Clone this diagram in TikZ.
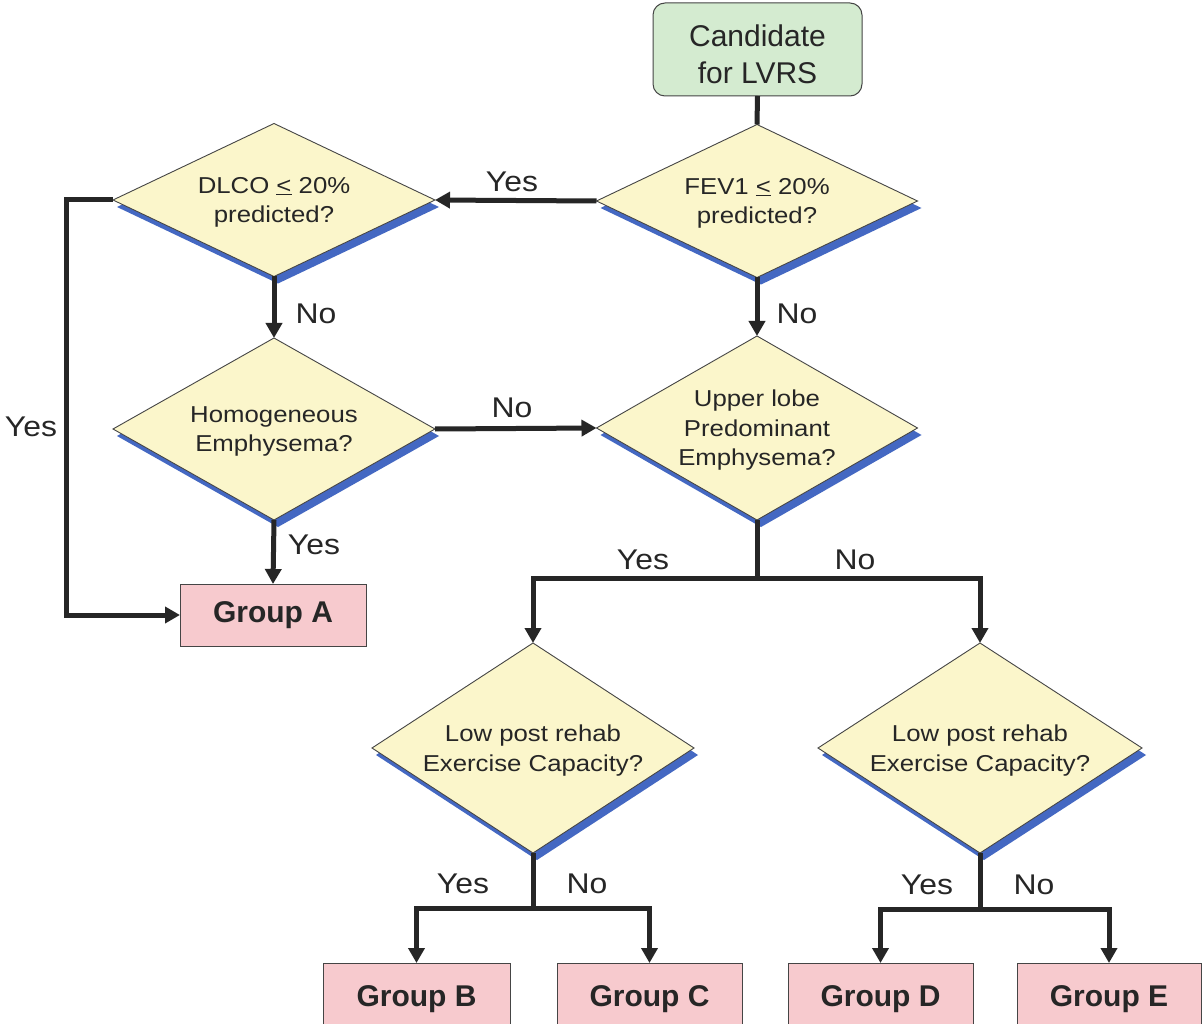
\documentclass[tikz,border=0pt]{standalone}
\usepackage{fontspec}
\setmainfont{Liberation Sans}
\newfontfamily\widesans[FakeStretch=1.12]{Liberation Sans}
\usetikzlibrary{shapes.geometric,arrows.meta,shadows}

\definecolor{startgreen}{HTML}{D4EBD0}
\definecolor{askyellow}{HTML}{FBF6CB}
\definecolor{grouppink}{HTML}{F7CACE}
\definecolor{shblue}{HTML}{4468C2}
\definecolor{ink}{HTML}{262626}
\definecolor{rim}{HTML}{454545}

\tikzset{
  startbox/.style={draw=rim, line width=1pt, fill=startgreen, rounded corners=12pt,
    minimum width=209pt, minimum height=93pt, inner sep=0pt, outer sep=0pt,
    align=center, text=ink, font=\fontsize{30}{37}\selectfont},
  ask/.style={diamond, aspect=2, draw=rim, line width=0.9pt, fill=askyellow, inner sep=0pt, outer sep=0pt,
    general shadow={fill=shblue, shadow xshift=4pt, shadow yshift=-7pt},
    text depth=0pt, align=center, text=ink, font=\widesans\fontsize{23}{29.5}\selectfont},
  groupbox/.style={draw=rim, line width=1pt, fill=grouppink, inner sep=0pt, outer sep=0pt,
    text=ink, font=\fontsize{30}{36}\selectfont\bfseries},
  conn/.style={draw=ink, line width=5pt},
  arr/.style={conn, -{Triangle[length=15pt,width=16pt]}},
  lbl/.style={text=ink, font=\widesans\fontsize{28.5}{32}\selectfont, inner sep=0pt}
}

\begin{document}
\begin{tikzpicture}[x=1pt,y=-1pt]
  \fill[white] (0,0) rectangle (1202,1024);
  \useasboundingbox (0,0) rectangle (1202,1024);
  \clip (0,0) rectangle (1202,1024);

  % start
  \node[startbox] (cand) at (757.5,49.5) {\rule{0pt}{32pt}Candidate\\for LVRS};

  % decisions
  \node[ask, minimum width=321pt, minimum height=153pt] (fev) at (757,201)
    {FEV1 \underline{<} 20\%\\predicted?};
  \node[ask, minimum width=322pt, minimum height=153pt] (dlco) at (274,200)
    {DLCO \underline{<} 20\%\\predicted?};
  \node[ask, minimum width=322pt, minimum height=182pt] (homo) at (274,429)
    {Homogeneous\\Emphysema?};
  \node[ask, minimum width=321pt, minimum height=184pt] (upper) at (757,428)
    {Upper lobe\\Predominant\\Emphysema?};
  \node[ask, minimum width=322pt, minimum height=210pt] (rehabL) at (533,748)
    {Low post rehab\\Exercise Capacity?};
  \node[ask, minimum width=324pt, minimum height=210pt] (rehabR) at (980,748)
    {Low post rehab\\Exercise Capacity?};

  % outcome groups
  \node[groupbox, minimum width=186pt, minimum height=62pt] (ga) at (273,615) {Group A};
  \node[groupbox, minimum width=187pt, minimum height=72pt] (gb) at (416.5,999) {Group B};
  \node[groupbox, minimum width=185pt, minimum height=72pt] (gc) at (649.5,999) {Group C};
  \node[groupbox, minimum width=185pt, minimum height=72pt] (gd) at (880.5,999) {Group D};
  \node[groupbox, minimum width=184pt, minimum height=72pt] (ge) at (1109,999) {Group E};

  % branch points
  \coordinate (splitU) at (757,578);
  \coordinate (splitL) at (533,908);
  \coordinate (splitR) at (980,909);

  % connectors
  \draw[conn] (cand.south) -- (fev.north);
  \draw[arr] (fev.west) -- (dlco.east);
  \draw[arr] (fev.south) -- (upper.north);
  \draw[arr] (dlco.south) -- (homo.north);
  \draw[arr] (dlco.west) -- ++(-47,0) |- (ga.west);
  \draw[arr] (homo.east) -- (upper.west);
  \draw[arr] (homo.south) -- (ga.north);

  \draw[conn] (upper.south) -- (splitU);
  \draw[arr] (splitU) -| (rehabL.north);
  \draw[arr] (splitU) -| (rehabR.north);

  \draw[conn] (rehabL.south) -- (splitL);
  \draw[arr] (splitL) -| (gb.north);
  \draw[arr] (splitL) -| (gc.north);

  \draw[conn] (rehabR.south) -- (splitR);
  \draw[arr] (splitR) -| (gd.north);
  \draw[arr] (splitR) -| (ge.north);

  % connector labels
  \node[lbl] (l1) at (512,182) {Yes};
  \node[lbl] (l2) at (797,314) {No};
  \node[lbl] (l3) at (316,314) {No};
  \node[lbl] (l4) at (31,427) {Yes};
  \node[lbl] (l5) at (512,408) {No};
  \node[lbl] (l6) at (314,545) {Yes};
  \node[lbl] (l7) at (643,560) {Yes};
  \node[lbl] (l8) at (855,560) {No};
  \node[lbl] (l9) at (463,884) {Yes};
  \node[lbl] (l10) at (587,884) {No};
  \node[lbl] (l11) at (927,885) {Yes};
  \node[lbl] (l12) at (1034,885) {No};
\end{tikzpicture}
\end{document}
